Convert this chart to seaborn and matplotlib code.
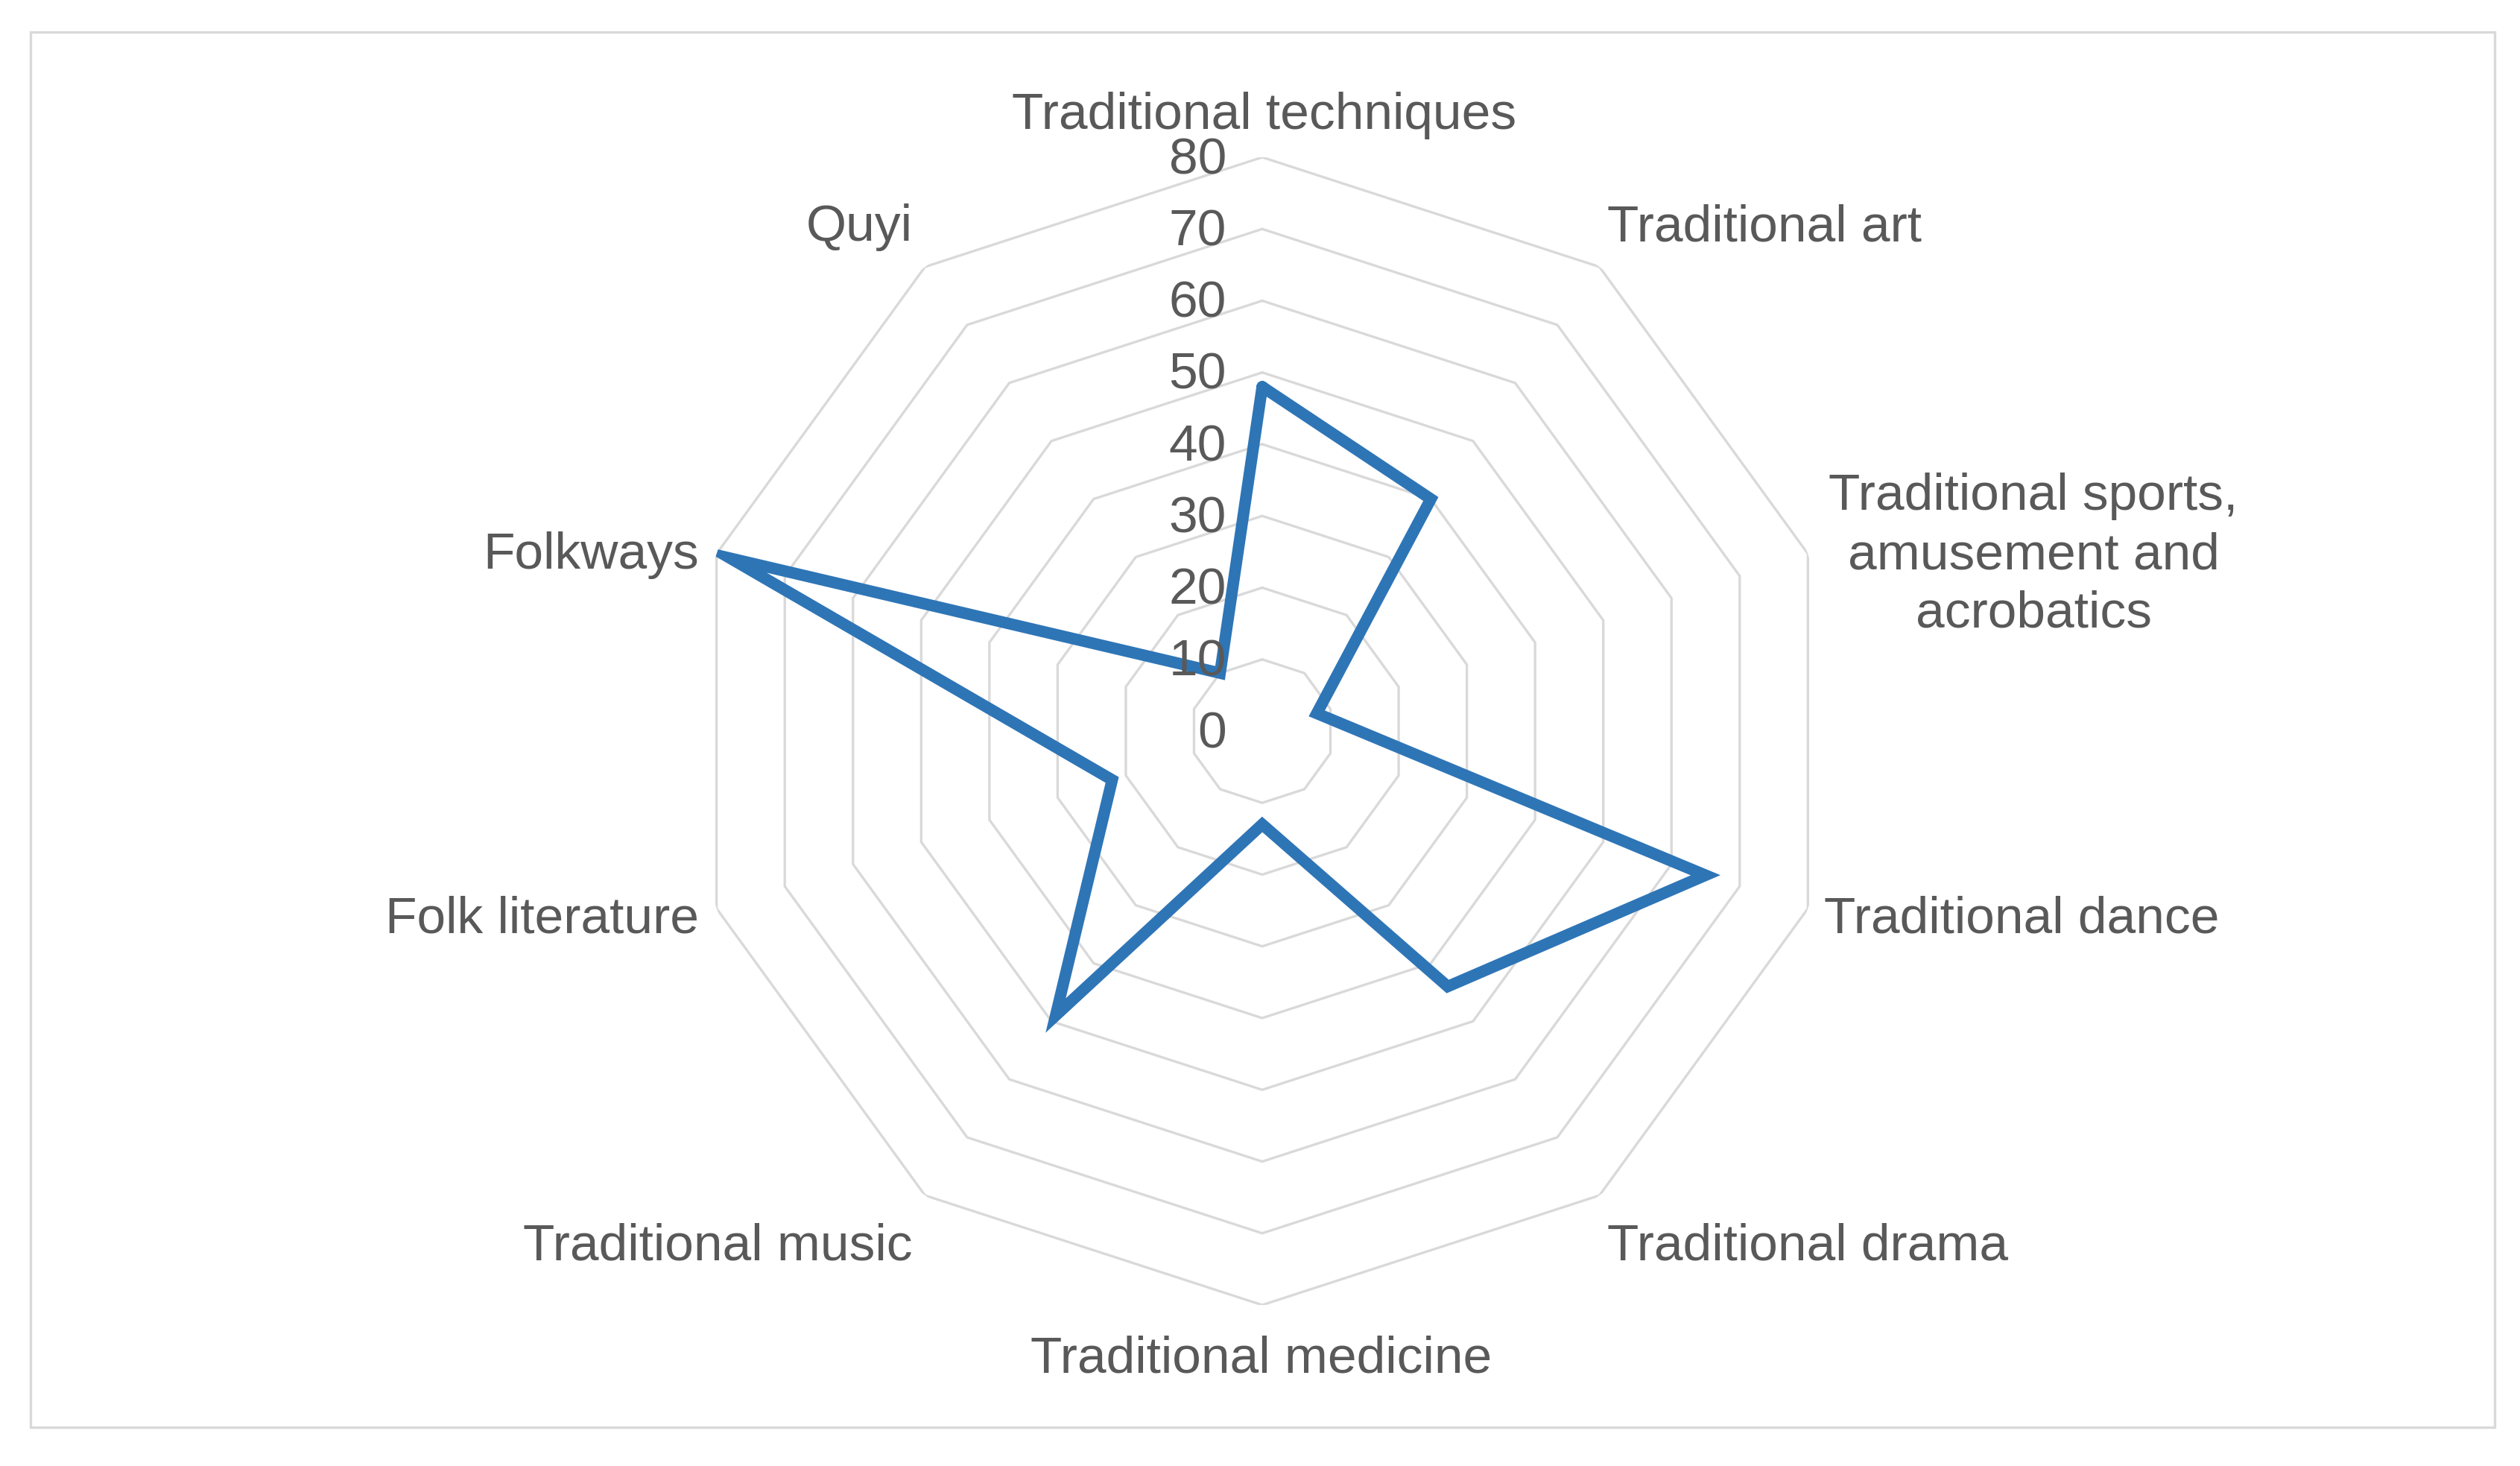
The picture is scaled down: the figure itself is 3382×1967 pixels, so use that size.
import numpy as np
import pandas as pd
import matplotlib
matplotlib.use("Agg")
import matplotlib.pyplot as plt
import matplotlib.transforms as mtransforms
from matplotlib.patches import Rectangle
import seaborn as sns

# ---- data ----
categories = [
    "Traditional techniques", "Traditional art",
    "Traditional sports,\namusement and\nacrobatics", "Traditional dance",
    "Traditional drama", "Traditional medicine", "Traditional music",
    "Folk literature", "Folkways", "Quyi",
]
values = [48, 40, 8, 65, 44, 13, 49, 22, 78, 10]
ring_ticks = [0, 10, 20, 30, 40, 50, 60, 70, 80]

# ---- style ----
sns.set_theme(style="white")
plt.rcParams["font.family"] = ["Liberation Sans", "DejaVu Sans"]
TEXT = "#595959"
GRID = "#d9d9d9"
LINE = "#2e75b6"
FS = 25

W, H, DPI = 3382, 1967, 200
fig = plt.figure(figsize=(W / DPI, H / DPI), dpi=DPI)
fig.patch.set_facecolor("white")

# outer frame
fig.patches.append(Rectangle((41 / W, 1 - 1915 / H), (3348 - 41) / W, (1915 - 43) / H,
                             transform=fig.transFigure, fill=False,
                             edgecolor=GRID, linewidth=1.2, zorder=0))

# polar axes placed so that centre/radius match reference
cx, cy, R = 1694, 981, 770
ax = fig.add_axes([(cx - R) / W, 1 - (cy + R) / H, 2 * R / W, 2 * R / H], projection="polar")
ax.set_theta_zero_location("N")
ax.set_theta_direction(-1)
ax.set_ylim(0, 80)
ax.grid(False)
ax.spines["polar"].set_visible(False)
ax.patch.set_alpha(0)

n = len(categories)
angles = np.linspace(0, 2 * np.pi, n, endpoint=False)
ang_closed = np.append(angles, angles[0])

# polygonal grid rings
for r in ring_ticks[1:]:
    ax.plot(ang_closed, [r] * (n + 1), color=GRID, linewidth=1.2, zorder=1)

# data line via seaborn
df = pd.DataFrame({"theta": ang_closed, "value": values + values[:1]})
sns.lineplot(data=df, x="theta", y="value", sort=False, ax=ax, color=LINE,
             linewidth=5.6, zorder=3, estimator=None)
ax.lines[-1].set_solid_joinstyle("miter")
ax.set_xlabel("")
ax.set_ylabel("")
ax.set_ylim(0, 80)
ax.set_xticks([])
ax.set_yticks([])

# radial tick labels
off = mtransforms.offset_copy(ax.transData, fig=fig, x=-48, y=-4, units="dots")
for r in ring_ticks:
    ax.text(0, r, str(r), transform=off, ha="right", va="center",
            fontsize=FS, color=TEXT, zorder=5)

# category labels (positions in reference pixels)
label_pos = [
    (1697, 155, "center"), (2157, 305, "left"), (2729, 745, "center"),
    (2448, 1234, "left"), (2157, 1672, "left"), (1693, 1823, "center"),
    (1225, 1672, "right"), (938, 1234, "right"), (938, 745, "right"),
    (1225, 305, "right"),
]
for lab, (px, py, ha) in zip(categories, label_pos):
    fig.text(px / W, 1 - py / H, lab, ha=ha, va="center", fontsize=FS,
             color=TEXT, multialignment="center", linespacing=1.3)

fig.savefig("out.png", dpi=DPI, facecolor="white")
